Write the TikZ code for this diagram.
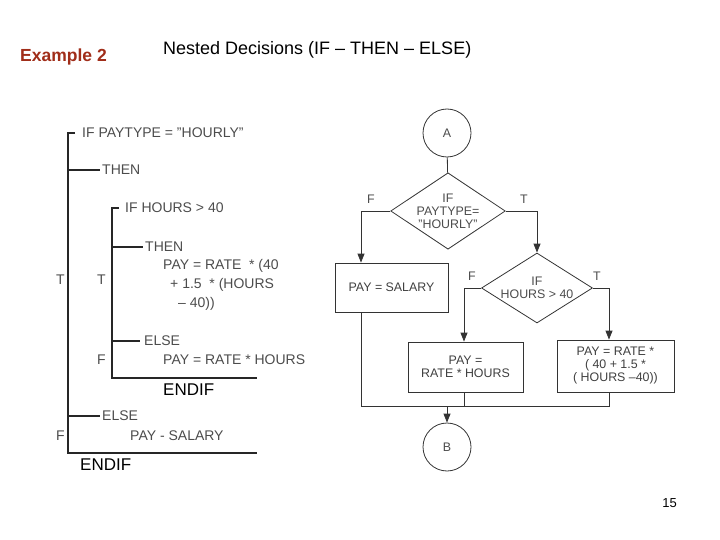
\documentclass[tikz,border=0pt]{standalone}
\usepackage{fontspec}
\setmainfont{Liberation Sans}
\usetikzlibrary{shapes.geometric,arrows.meta}
\begin{document}
\begin{tikzpicture}[x=1pt,y=-1pt,
  lt/.style={font=\fontsize{14}{15}\selectfont, text=black!70, anchor=west, inner sep=0},
  bl/.style={line width=1.6pt, black!85},
  fl/.style={line width=0.8pt, black!80},
  fbox/.style={draw=black!80, line width=0.8pt, align=center, font=\fontsize{12.4}{13}\selectfont, text=black!75, inner sep=0},
  arr/.style={fl,-{Triangle[length=9pt,width=7pt]}},
  lab/.style={font=\fontsize{12.4}{13}\selectfont, text=black!70, inner sep=0}]
\useasboundingbox (0,0) rectangle (720,540);
% titles
\node[anchor=west, inner sep=0, font=\bfseries\fontsize{17.5}{19}\selectfont, text={rgb,255:red,160;green,45;blue,25}] (ex) at (20,57) {Example 2};
\node[anchor=west, inner sep=0, font=\fontsize{18}{19}\selectfont] (tt) at (163,50) {Nested Decisions (IF -- THEN -- ELSE)};
\node[anchor=east, inner sep=0, font=\fontsize{13}{14}\selectfont] (pg) at (677,503) {15};
% left structure
\coordinate (o1) at (68,133); \coordinate (o2) at (68,453);
\draw[bl] (75,133) -- (o1) -- (o2) -- (257,453);
\draw[bl] (68,170) -- (100,170);
\draw[bl] (68,416) -- (100,416);
\draw[bl] (119,208) -- (112,208) -- (112,378) -- (257,378);
\draw[bl] (112,247) -- (143,247);
\draw[bl] (112,341) -- (140,341);
\node[lt] (t1) at (82,133) {IF PAYTYPE = "HOURLY"};
\node[lt] (t2) at (102,170) {THEN};
\node[lt] (t3) at (125,208) {IF HOURS > 40};
\node[lt] (t4) at (145,247) {THEN};
\node[lt] (t5) at (163,266) {PAY = RATE \ * (40};
\node[lt] (t6) at (170,285) {+ 1.5 \ * (HOURS};
\node[lt] (t7) at (178,304) {-- 40))};
\node[lt] (t8) at (144,341) {ELSE};
\node[lt] (t9) at (163,360) {PAY = RATE * HOURS};
\node[lt] (t10) at (102,416) {ELSE};
\node[lt] (t11) at (130,436) {PAY - SALARY};
\node[lt] (tT1) at (56,280) {T};
\node[lt] (tT2) at (97,280) {T};
\node[lt] (tF1) at (97,360) {F};
\node[lt] (tF2) at (56,436) {F};
\node[anchor=west, inner sep=0, font=\fontsize{17}{18}\selectfont] (e1) at (163,390) {ENDIF};
\node[anchor=west, inner sep=0, font=\fontsize{17}{18}\selectfont] (e2) at (80,465) {ENDIF};
% flowchart
\node[circle, draw=black!80, fl, minimum size=48pt, inner sep=0, lab] (A) at (447,133) {A};
\node[diamond, draw=black!80, fl, minimum width=110pt, minimum height=72pt, inner sep=0, align=center, lab, aspect=1.5] (d1) at (448,211) {IF\\PAYTYPE=\\"HOURLY"};
\node[fbox, minimum width=113pt, minimum height=49pt] (sal) at (391.5,287.5) {PAY = SALARY};
\node[diamond, draw=black!80, fl, minimum width=111pt, minimum height=70pt, inner sep=0, align=center, lab, aspect=1.58] (d2) at (537,288) {IF\\HOURS > 40};
\node[fbox, minimum width=115pt, minimum height=50pt] (b2) at (465.5,367) {PAY =\\RATE * HOURS};
\node[fbox, minimum width=117pt, minimum height=52pt] (b3) at (615.5,366) {PAY = RATE *\\( 40 + 1.5 *\\( HOURS --40))};
\node[circle, draw=black!80, fl, minimum size=48pt, inner sep=0, lab] (B) at (447,447) {B};
\coordinate (j) at (447,406);
\draw[fl] (A) -- (d1);
\draw[arr] (d1.west) -| (sal.north -| 361,0);
\draw[arr] (d1.east) -| (d2.north);
\draw[arr] (d2.west) -| (b2.north -| 464,0);
\draw[arr] (d2.east) -| (b3.north -| 609,0);
\draw[fl] (sal.south -| 361,0) |- (j);
\draw[fl] (b3.south -| 609,0) |- (j);
\draw[fl] (b2.south -| 464,0) -- (464,406);
\draw[arr] (j) -- (B);
\node[lab] (lf1) at (371,199) {F};
\node[lab] (lt1) at (524,199) {T};
\node[lab] (lf2) at (472,276) {F};
\node[lab] (lt2) at (597,276) {T};
\end{tikzpicture}
\end{document}
